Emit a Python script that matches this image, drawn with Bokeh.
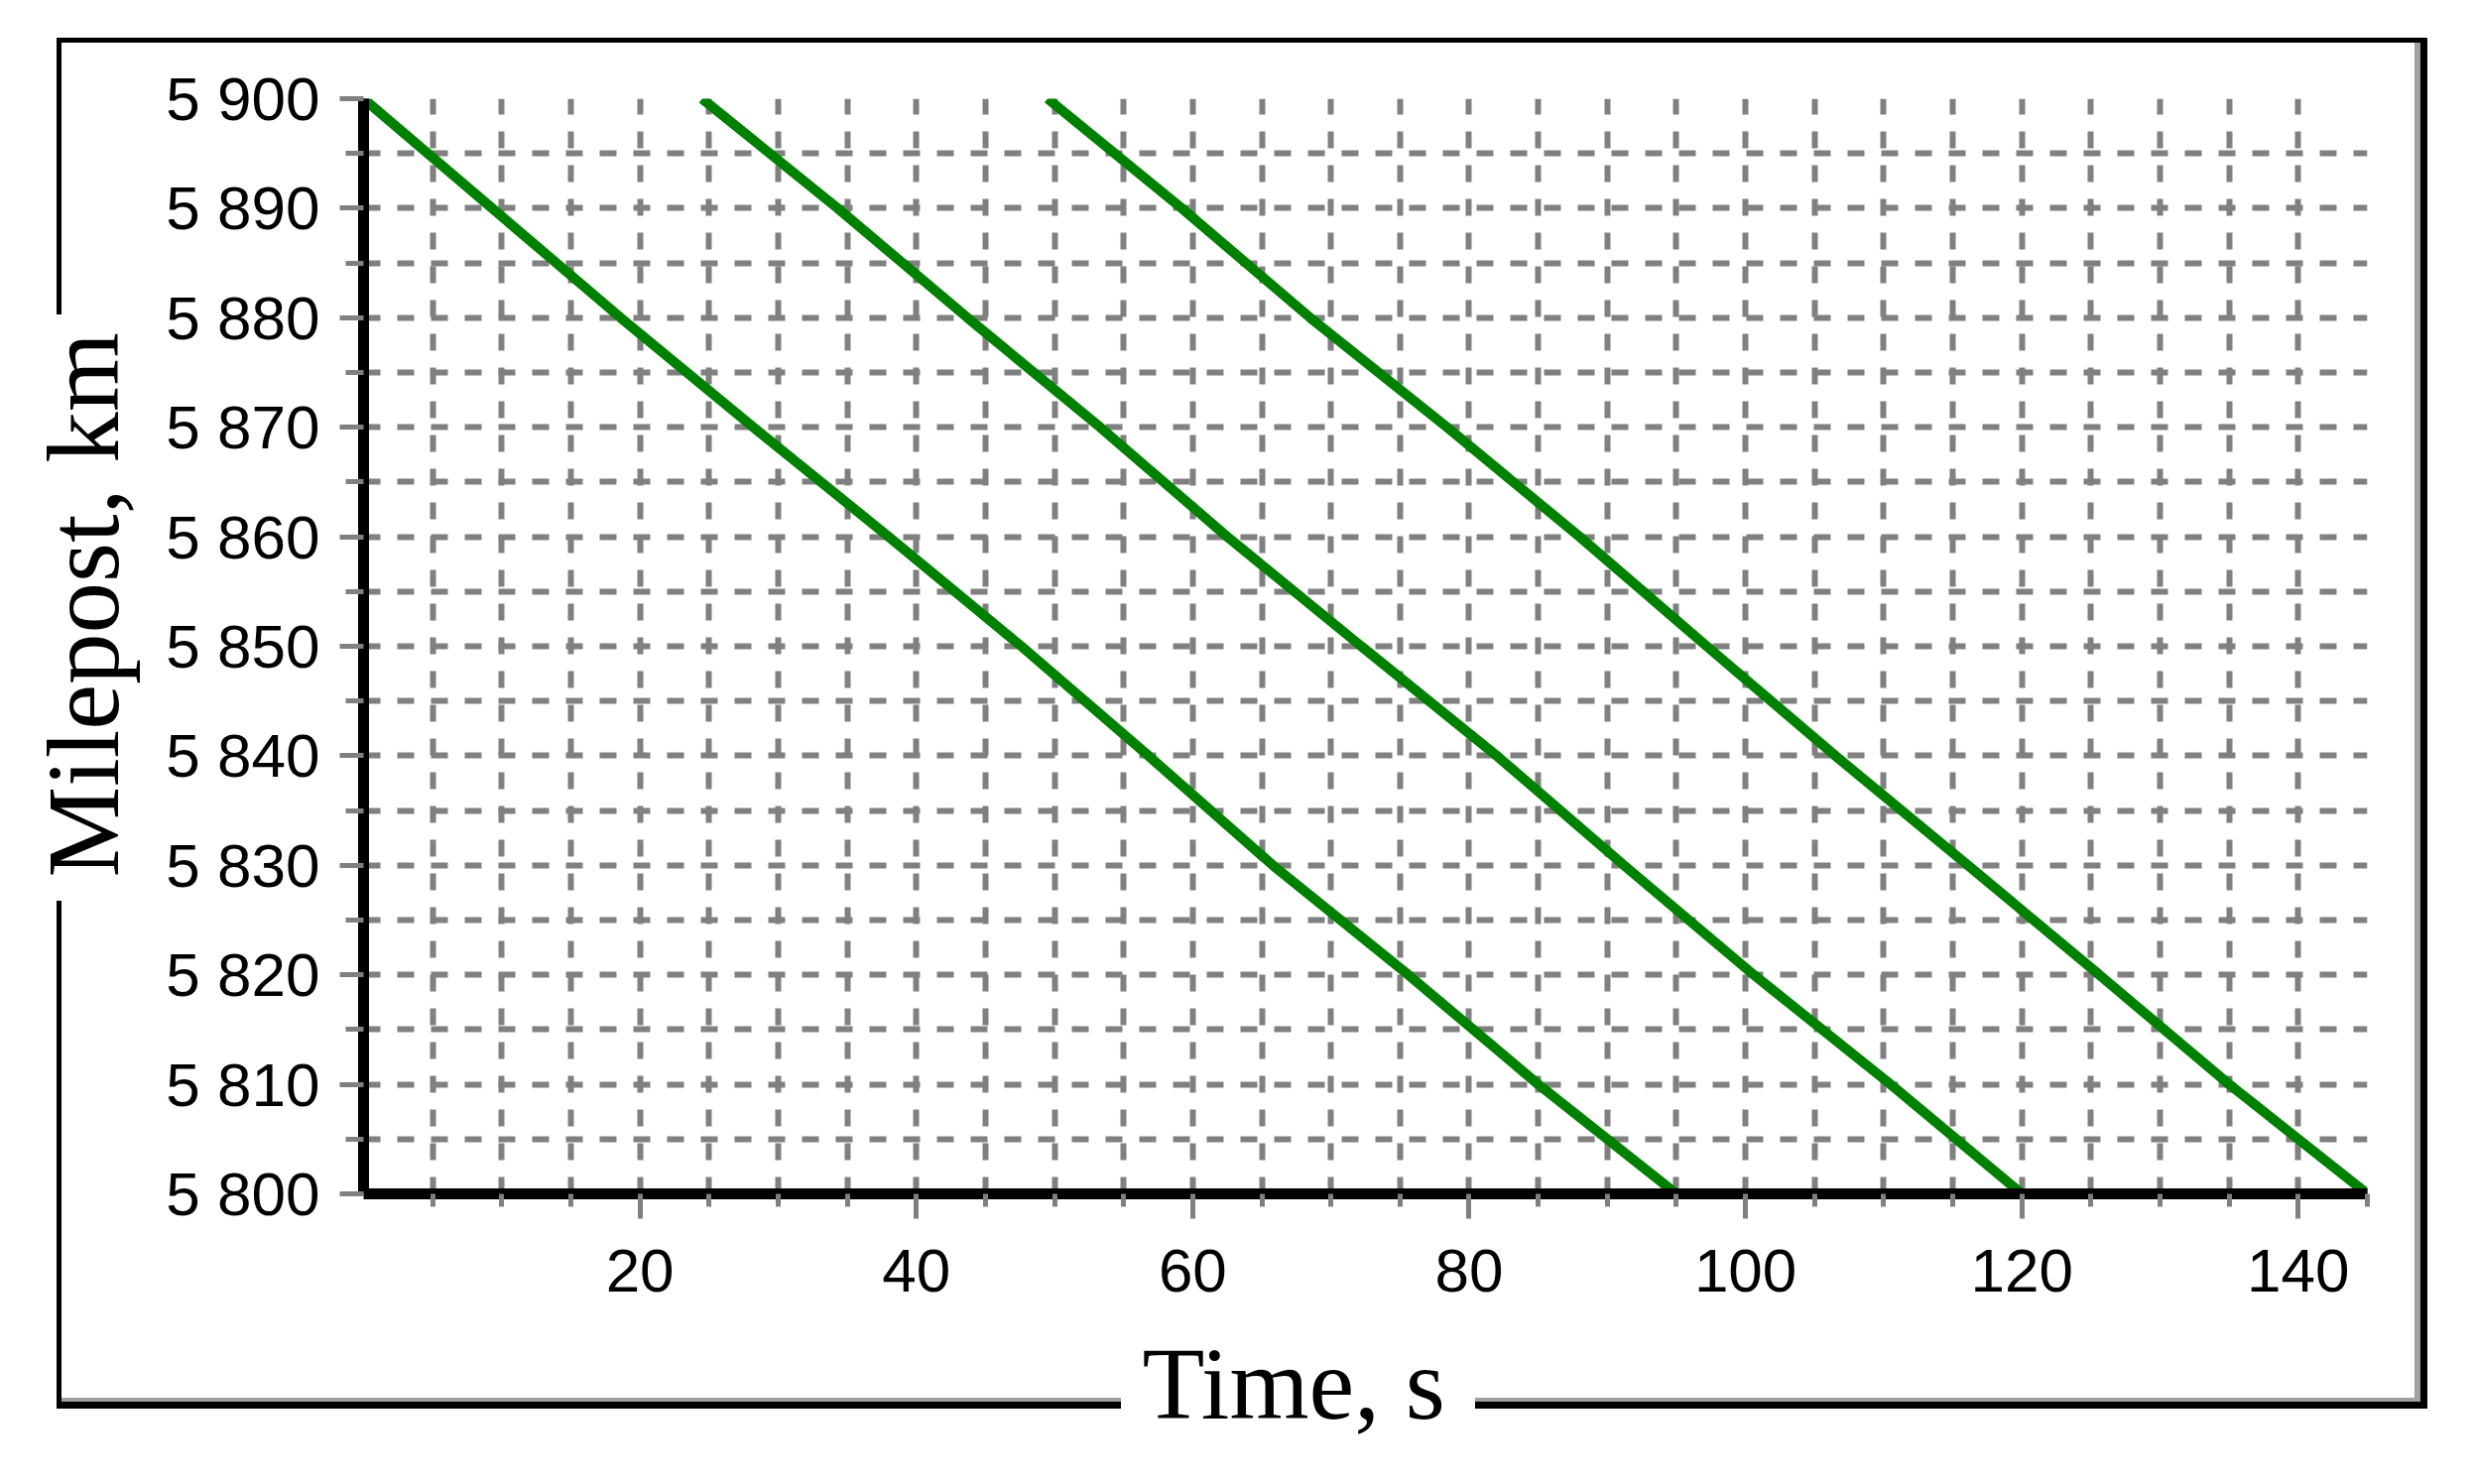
from bokeh.plotting import figure
from bokeh.models import Range1d, FixedTicker, Title
from bokeh.embed import file_html
from bokeh.resources import INLINE

# ---------------- data ----------------
milepost = [5900, 5890, 5880, 5870, 5860, 5850, 5840, 5830, 5820, 5810, 5800]
train1_t = [0.0, 9.3, 18.6, 28.2, 38.0, 47.6, 56.8, 65.8, 75.6, 85.0, 95.0]
train2_t = [24.5, 34.3, 43.7, 53.3, 62.5, 72.2, 82.0, 91.2, 100.6, 110.5, 120.0]
train3_t = [49.5, 59.2, 68.5, 78.4, 88.0, 97.2, 106.5, 116.1, 125.6, 135.0, 145.0]

x_ticks = [20, 40, 60, 80, 100, 120, 140]
x_minor = [5, 10, 15, 25, 30, 35, 45, 50, 55, 65, 70, 75, 85, 90, 95,
           105, 110, 115, 125, 130, 135, 145]
x_grid = [0, 5, 10, 15, 20, 25, 30, 35, 40, 45, 50, 55, 60, 65, 70, 75,
          80, 85, 90, 95, 100, 105, 110, 115, 120, 125, 130, 135, 140, 145]
y_ticks = [5800, 5810, 5820, 5830, 5840, 5850, 5860, 5870, 5880, 5890, 5900]
y_tick_labels = ["5 800", "5 810", "5 820", "5 830", "5 840", "5 850",
                 "5 860", "5 870", "5 880", "5 890", "5 900"]
y_minor = [5805, 5815, 5825, 5835, 5845, 5855, 5865, 5875, 5885, 5895]
y_grid = [5800, 5805, 5810, 5815, 5820, 5825, 5830, 5835, 5840, 5845, 5850,
          5855, 5860, 5865, 5870, 5875, 5880, 5885, 5890, 5895, 5900]

x_title = "Time, s"
y_title = "Milepost, km"

# ---------------- layout ----------------
W, H = 2494, 1496
FL, FR, FT, FB = 364, 108, 99, 293          # frame borders (px)

p = figure(width=W, height=H, output_backend="svg", toolbar_location=None,
           x_range=Range1d(0, 145), y_range=Range1d(5800, 5900),
           min_border_left=FL, min_border_right=FR,
           min_border_top=FT, min_border_bottom=FB)
p.outline_line_color = None
p.background_fill_color = "white"
p.border_fill_color = None

GRID = "#808080"
for g, ticks in ((p.xgrid, x_grid), (p.ygrid, y_grid)):
    g.ticker = FixedTicker(ticks=ticks)
    g.grid_line_color = GRID
    g.grid_line_width = 6
    g.grid_line_dash = "17 17"

for ax in (p.xaxis, p.yaxis):
    ax.axis_line_color = "black"
    ax.axis_line_width = 11
    ax.major_tick_line_color = GRID
    ax.major_tick_line_width = 5
    ax.minor_tick_line_color = GRID
    ax.minor_tick_line_width = 5
    ax.major_tick_in = 0
    ax.minor_tick_in = 0
    ax.major_label_text_font = "Liberation Sans"
    ax.major_label_text_font_size = "62px"
    ax.major_label_text_color = "black"

p.xaxis.ticker = FixedTicker(ticks=x_ticks, minor_ticks=x_minor)
p.xaxis.major_tick_out = 25
p.xaxis.minor_tick_out = 13
p.xaxis.major_label_standoff = 31

p.yaxis.ticker = FixedTicker(ticks=y_ticks, minor_ticks=y_minor)
p.yaxis.major_label_overrides = dict(zip(y_ticks, y_tick_labels))
p.yaxis.major_tick_out = 24
p.yaxis.minor_tick_out = 18
p.yaxis.major_label_standoff = 20

for t in (train1_t, train2_t, train3_t):
    p.line(t, milepost, line_color="#008000", line_width=10)

# axis titles (in the side panels, so they are not clipped)
p.add_layout(Title(text=x_title, text_font="Liberation Serif",
                   text_font_size="103px", text_font_style="normal",
                   text_color="black", align="left", offset=785,
                   standoff=63), "below")
p.add_layout(Title(text=y_title, text_font="Liberation Serif",
                   text_font_size="103px", text_font_style="normal",
                   text_color="black", align="left", offset=319,
                   standoff=48), "left")

# outer frame (broken where the titles sit), drawn behind the transparent canvas
pieces = [  # colour, x, y, w, h  (px)
    ("#000000", 57, 38, 2390, 5),       # top
    ("#000000", 57, 38, 5, 279),        # left, upper part
    ("#000000", 57, 908, 5, 512),       # left, lower part
    ("#a0a0a0", 2434, 43, 6, 1370),     # right, inner grey
    ("#000000", 2440, 38, 7, 1382),     # right
    ("#a0a0a0", 62, 1409, 1068, 4),     # bottom-left grey
    ("#000000", 57, 1413, 1073, 7),     # bottom-left
    ("#a0a0a0", 1487, 1409, 953, 4),    # bottom-right grey
    ("#000000", 1487, 1413, 960, 7),    # bottom-right
]
p.styles = {
    "background-color": "white",
    "background-image": ", ".join(f"linear-gradient({c}, {c})" for c, *_ in pieces),
    "background-position": ", ".join(f"{x}px {y}px" for _, x, y, _w, _h in pieces),
    "background-size": ", ".join(f"{w}px {h}px" for _, _x, _y, w, h in pieces),
    "background-repeat": "no-repeat",
}

open("out.html", "w").write(file_html(p, INLINE))
